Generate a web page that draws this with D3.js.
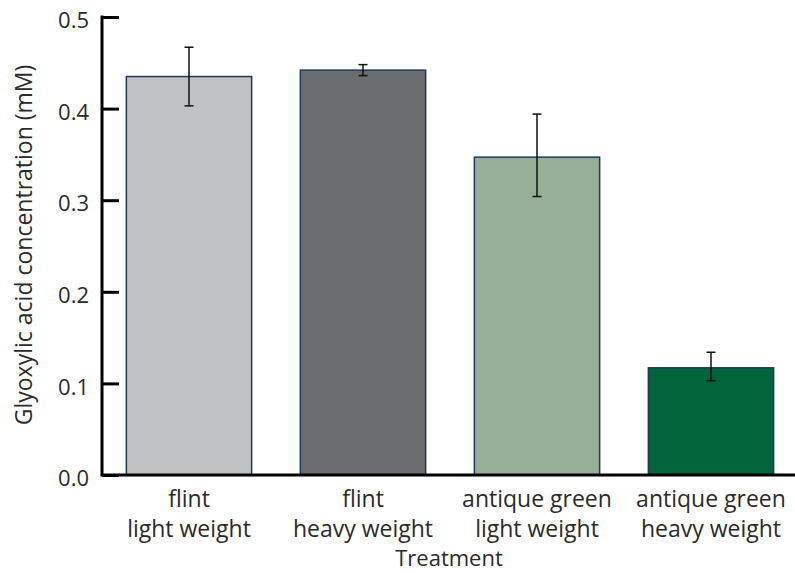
<!DOCTYPE html>
<html>
<head>
<meta charset="utf-8">
<script src="https://cdn.jsdelivr.net/npm/d3@7"></script>
<style>
  body { margin: 0; background: #fff; }
  svg text { font-family: "Open Sans", "Noto Sans", sans-serif; fill: #2b2b2b; }
</style>
</head>
<body>
<svg id="chart" width="795" height="573"></svg>
<script>
// Treatments (two-line labels) and glyoxylic acid measurements
const categories = [
  ["flint", "light weight"],
  ["flint", "heavy weight"],
  ["antique green", "light weight"],
  ["antique green", "heavy weight"]
];
const means = [0.435, 0.442, 0.347, 0.117];
const errLow = [0.403, 0.436, 0.304, 0.103];
const errHigh = [0.467, 0.448, 0.394, 0.134];
const barColors = ["#c1c2c4", "#6b6d71", "#97ae97", "#02643a"];
const yTicks = [0.0, 0.1, 0.2, 0.3, 0.4, 0.5];

const svg = d3.select("#chart");
const plotLeft = 102, plotRight = 798, plotTop = 17, plotBottom = 475;

const x = d3.scaleBand()
  .domain(d3.range(categories.length))
  .range([plotLeft, plotRight])
  .paddingInner(0.28)
  .paddingOuter(0.14);

const y = d3.scaleLinear().domain([0, 0.5]).range([plotBottom, plotTop]);

// bars
svg.append("g").selectAll("rect")
  .data(means)
  .join("rect")
  .attr("x", (d, i) => x(i))
  .attr("y", d => y(d))
  .attr("width", x.bandwidth())
  .attr("height", d => y(0) - y(d))
  .attr("fill", (d, i) => barColors[i])
  .attr("stroke", "#1d3a5c")
  .attr("stroke-width", 1.5);

// error bars
const eg = svg.append("g").attr("stroke", "#111").attr("stroke-width", 1.5);
means.forEach((m, i) => {
  const cx = x(i) + x.bandwidth() / 2;
  eg.append("line").attr("x1", cx).attr("x2", cx).attr("y1", y(errLow[i])).attr("y2", y(errHigh[i]));
  [errLow[i], errHigh[i]].forEach(v => {
    eg.append("line").attr("x1", cx - 4.5).attr("x2", cx + 4.5).attr("y1", y(v)).attr("y2", y(v));
  });
});

// y axis: ticks point inward
const yAxis = svg.append("g")
  .attr("transform", `translate(${plotLeft},0)`)
  .call(d3.axisRight(y).tickValues(yTicks).tickSize(17).tickFormat(d3.format(".1f")));
yAxis.select(".domain").remove();
yAxis.selectAll(".tick line").attr("stroke", "#000").attr("stroke-width", 3);
yAxis.selectAll(".tick text")
  .attr("x", -13)
  .attr("y", 3)
  .attr("text-anchor", "end")
  .attr("font-size", 22)
  .attr("dy", "0.35em");
yAxis.append("line")
  .attr("x1", 0).attr("x2", 0)
  .attr("y1", y(0.5) - 1.5).attr("y2", y(0) + 1.5)
  .attr("stroke", "#000").attr("stroke-width", 3);

// x baseline
svg.append("line")
  .attr("x1", plotLeft).attr("x2", 795)
  .attr("y1", y(0)).attr("y2", y(0))
  .attr("stroke", "#000").attr("stroke-width", 3);

// category labels
const xl = svg.append("g");
categories.forEach((lines, i) => {
  const cx = x(i) + x.bandwidth() / 2;
  const t = xl.append("text").attr("text-anchor", "middle").attr("font-size", 23);
  lines.forEach((ln, k) => {
    t.append("tspan").attr("x", cx).attr("y", 507 + k * 30).text(ln);
  });
});

// axis titles
svg.append("text")
  .attr("x", 449)
  .attr("y", 566)
  .attr("text-anchor", "middle")
  .attr("font-size", 22)
  .text("Treatment");

svg.append("text")
  .attr("transform", `translate(32,245) rotate(-90)`)
  .attr("text-anchor", "middle")
  .attr("font-size", 23)
  .text("Glyoxylic acid concentration (mM)");
</script>
</body>
</html>
